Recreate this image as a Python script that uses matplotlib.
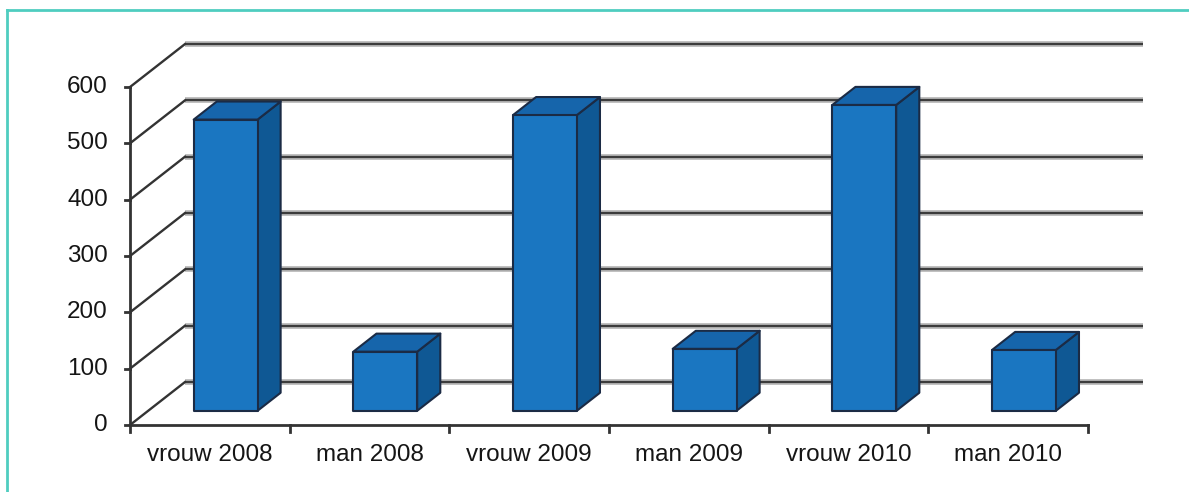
import matplotlib
matplotlib.use("Agg")
import matplotlib.pyplot as plt
from matplotlib.patches import Polygon

categories = ["vrouw 2008", "man 2008", "vrouw 2009", "man 2009", "vrouw 2010", "man 2010"]
values = [517, 105, 525, 110, 543, 108]
y_ticks = [0, 100, 200, 300, 400, 500, 600]

# 3D-ish projection: depth z in [0, 1] shifts points right and up
DX = 0.3445   # category units
DY = 76.3     # value units
bar_left, bar_right = 0.285, 0.685
z_front, z_back = 0.33, 0.75

front_col = "#1a76c1"
top_col = "#1665ab"
side_col = "#0f5894"
edge_col = "#1b2b45"

plt.rcParams['font.family'] = ['Liberation Sans', 'DejaVu Sans']

fig = plt.figure(figsize=(11.89, 4.92), dpi=100)
ax = fig.add_axes([0, 0, 1, 1])
ax.set_xlim(-130 / 159.67, (1189 - 130) / 159.67)
ax.set_ylim(-67 / 0.5633, (492 - 67) / 0.5633)
ax.axis("off")

def proj(x, v, z):
    return (x + z * DX, v + z * DY)

n = len(categories)
ymax = y_ticks[-1]

# back wall gridlines and left wall diagonals
for v in y_ticks:
    bx0, by = proj(0, v, 1)
    bx1, _ = proj(n, v, 1)
    ax.plot([bx0, bx1], [by, by], color="#b0b0b0", lw=4, solid_capstyle="butt", zorder=1)
    ax.plot([bx0, bx1], [by, by], color="#3c3c3c", lw=1.5, solid_capstyle="butt", zorder=1.1)
    ax.plot([0, bx0], [v, by], color="#333333", lw=1.7, zorder=1.1)

# front axes
ax.plot([0, 0], [0, ymax], color="#333333", lw=2, zorder=2)
ax.plot([0, n], [0, 0], color="#333333", lw=2, zorder=2)
for v in y_ticks:
    ax.plot([-5 / 159.67, 0], [v, v], color="#333333", lw=2, zorder=2)
    ax.text(-22 / 159.67, v, str(v), ha="right", va="center", fontsize=17.5, color="#151515")
for i in range(n + 1):
    ax.plot([i, i], [0, -7 / 0.5633], color="#333333", lw=2, zorder=2)

# bars
for i, (cat, val) in enumerate(zip(categories, values)):
    x0, x1 = i + bar_left, i + bar_right
    fbl = proj(x0, 0, z_front)
    fbr = proj(x1, 0, z_front)
    ftl = proj(x0, val, z_front)
    ftr = proj(x1, val, z_front)
    btl = proj(x0, val, z_back)
    btr = proj(x1, val, z_back)
    bbr = proj(x1, 0, z_back)
    ax.add_patch(Polygon([fbr, ftr, btr, bbr], closed=True, facecolor=side_col,
                         edgecolor=edge_col, lw=1.5, joinstyle="round", zorder=3))
    ax.add_patch(Polygon([ftl, ftr, btr, btl], closed=True, facecolor=top_col,
                         edgecolor=edge_col, lw=1.5, joinstyle="round", zorder=3))
    ax.add_patch(Polygon([fbl, fbr, ftr, ftl], closed=True, facecolor=front_col,
                         edgecolor=edge_col, lw=1.5, joinstyle="round", zorder=3.1))
    ax.text(i + 0.5, -30 / 0.5633, cat, ha="center", va="center", fontsize=17.5, color="#151515")

# teal frame (top and left)
fig.add_artist(plt.Line2D([7 / 1189, 7 / 1189], [0, 1 - 10 / 492], color="#4fcdc0", lw=2))
fig.add_artist(plt.Line2D([7 / 1189, 1], [1 - 10 / 492, 1 - 10 / 492], color="#4fcdc0", lw=2))

fig.savefig("out.png", dpi=100)
